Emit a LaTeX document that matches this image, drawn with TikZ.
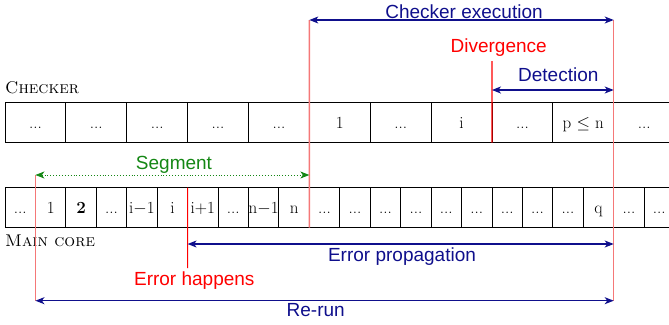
\documentclass[tikz,border=0pt]{standalone}
\usepackage{fontspec}
\newfontfamily\lsans{Liberation Sans}
\usetikzlibrary{arrows.meta}
\newcommand\mydots{...}
\definecolor{navyb}{RGB}{15,15,140}
\definecolor{greend}{RGB}{20,135,20}
\definecolor{pinkl}{RGB}{245,120,120}
\begin{document}
\begin{tikzpicture}[x=1pt,y=-1pt,
  cellA/.style={draw=black,line width=0.9pt,minimum width=60.87pt,minimum height=40pt,
    inner sep=0pt,outer sep=0pt,text height=12pt,text depth=0pt,font=\fontsize{17}{20}\selectfont},
  cellB/.style={cellA,minimum width=30.435pt},
  rowlabel/.style={anchor=base west,inner sep=0pt,font=\fontsize{17}{20}\selectfont\scshape},
  lab/.style={anchor=base,inner sep=0pt,font=\fontsize{19}{22}\selectfont\lsans},
  span/.style={navyb,line width=1.1pt,{Stealth[length=9pt,width=7pt,inset=2.5pt]}-{Stealth[length=9pt,width=7pt,inset=2.5pt]}},
  segspan/.style={greend,line width=0.9pt,dotted,{Stealth[length=9pt,width=7pt,inset=2.5pt]}-{Stealth[length=9pt,width=7pt,inset=2.5pt]}},
  pinkline/.style={pinkl,line width=1.5pt},
  redline/.style={red,line width=1.1pt}
]
\useasboundingbox (0,0) rectangle (669,324);
\clip (0,0) rectangle (669,324);

% Checker row
\foreach \t [count=\k from 0] in {\mydots,\mydots,\mydots,\mydots,\mydots,1,\mydots,i,\mydots,p $\leq$ n,\mydots}
  \node[cellA] (c\k) at (35.435+\k*60.87,122.5) {\t};
% Main core row
\foreach \t [count=\k from 0] in {\mydots,1,\textbf{2},\mydots,i$-$1,i,i+1,\mydots,n$-$1,n,\mydots,\mydots,\mydots,\mydots,\mydots,\mydots,\mydots,\mydots,\mydots,q,\mydots,\mydots}
  \node[cellB] (m\k) at (20.2175+\k*30.435,207.5) {\t};

\node[rowlabel] (lchk) at (5,93) {Checker};
\node[rowlabel] (lmain) at (5,246) {Main core};

% coordinates
\coordinate (ce1) at (309.35,20);
\coordinate (ce2) at (613.7,20);
\coordinate (rr1) at (35.43,300.7);
\coordinate (rr2) at (613.7,300.7);
\coordinate (sg1) at (35.43,175);
\coordinate (sg2) at (309.35,175);
\coordinate (dv) at (491.96,61);
\coordinate (dt1) at (491.96,90);
\coordinate (dt2) at (613.7,90);
\coordinate (eh) at (187.6,268);
\coordinate (ep1) at (187.6,244);
\coordinate (ep2) at (613.7,244);

% vertical markers
\draw[pinkline] (ce1) -- (m10.south west);
\draw[pinkline] (ce2) -- (rr2);
\draw[pinkline] (sg1) -- (rr1);
\draw[redline] (dv) -- (c8.south west);
\draw[redline] (m6.north west) -- (eh);

% spans
\draw[span] (ce1) -- (ce2);
\draw[span] (dt1) -- (dt2);
\draw[segspan] (sg1) -- (sg2);
\draw[span] (ep1) -- (ep2);
\draw[span] (rr1) -- (rr2);

% labels
\node[lab,navyb] (tce) at (464,18) {Checker execution};
\node[lab,red] (tdv) at (498.7,52) {Divergence};
\node[lab,navyb] (tdt) at (558.3,81.7) {Detection};
\node[lab,greend] (tsg) at (174,169) {Segment};
\node[lab,navyb] (tep) at (402,261.7) {Error propagation};
\node[lab,red] (teh) at (194.3,285) {Error happens};
\node[lab,navyb] (trr) at (315.7,316.7) {Re-run};
\end{tikzpicture}
\end{document}
